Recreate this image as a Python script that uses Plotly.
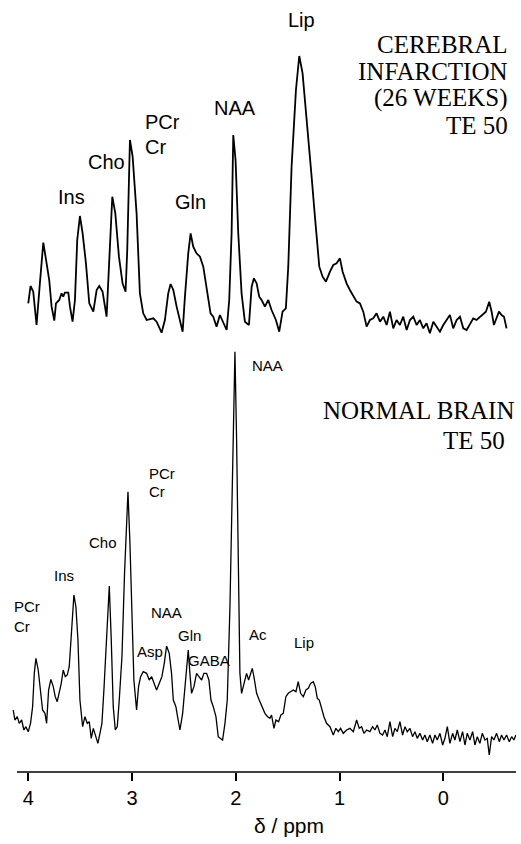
import plotly.graph_objects as go

# ---- data: chemical shift (ppm) and signal intensity (arbitrary units) ----
top_ppm = [4.000, 3.978, 3.952, 3.920, 3.888, 3.855, 3.823, 3.798, 3.775, 3.749,
           3.733, 3.701, 3.679, 3.663, 3.647, 3.614, 3.598, 3.573, 3.550, 3.528,
           3.502, 3.476, 3.444, 3.412, 3.373, 3.341, 3.316, 3.284, 3.245, 3.219,
           3.190, 3.161, 3.126, 3.091, 3.062, 3.046, 3.020, 2.994, 2.956, 2.924,
           2.892, 2.859, 2.827, 2.795, 2.763, 2.737, 2.715, 2.683, 2.651, 2.628,
           2.602, 2.570, 2.538, 2.512, 2.490, 2.458, 2.435, 2.410, 2.378, 2.345,
           2.313, 2.281, 2.243, 2.217, 2.185, 2.153, 2.121, 2.088, 2.063, 2.040,
           2.024, 2.002, 1.976, 1.944, 1.912, 1.873, 1.847, 1.825, 1.799, 1.774,
           1.751, 1.719, 1.687, 1.655, 1.613, 1.581, 1.549, 1.517, 1.494, 1.462,
           1.420, 1.388, 1.356, 1.317, 1.269, 1.237, 1.195, 1.163, 1.131, 1.092,
           1.060, 1.028, 0.996, 0.970, 0.932, 0.900, 0.867, 0.835, 0.803, 0.771,
           0.739, 0.707, 0.675, 0.643, 0.610, 0.578, 0.546, 0.514, 0.482, 0.450,
           0.418, 0.386, 0.353, 0.321, 0.289, 0.257, 0.225, 0.193, 0.161, 0.129,
           0.096, 0.064, 0.032, 0.000, -0.032, -0.064, -0.096, -0.129, -0.161, -0.193,
           -0.225, -0.257, -0.289, -0.321, -0.353, -0.386, -0.411, -0.443, -0.466, -0.488,
           -0.514, -0.537, -0.562, -0.585, -0.610]
top_int = [9.0, 14.2, 12.5, 2.5, 15.0, 27.2, 21.0, 16.0, 8.0, 3.8,
           9.0, 10.0, 12.0, 11.0, 12.2, 12.2, 8.0, 3.5, 10.0, 28.0,
           35.2, 30.0, 21.0, 9.0, 6.5, 13.0, 14.2, 12.5, 5.0, 24.0,
           41.0, 36.0, 23.0, 15.0, 12.5, 25.0, 58.0, 53.0, 36.0, 12.0,
           6.0, 4.0, 4.2, 4.5, 3.5, 1.5, 0.2, 4.0, 12.0, 14.8,
           13.0, 8.0, 3.5, 0.5, 11.0, 24.0, 30.0, 26.0, 24.0, 23.0,
           20.0, 14.0, 6.0, 5.0, 2.0, 5.5, 3.5, 1.0, 10.0, 30.0,
           59.5, 52.0, 30.0, 12.0, 3.5, 2.5, 14.0, 16.5, 15.0, 11.0,
           10.0, 8.0, 10.0, 7.0, 4.0, 0.5, 6.5, 7.5, 20.0, 50.0,
           73.0, 83.2, 78.0, 65.0, 47.0, 35.0, 20.0, 17.0, 15.5, 18.5,
           20.5, 21.0, 22.5, 18.5, 15.0, 13.0, 11.0, 9.5, 9.0, 6.5,
           2.0, 4.0, 4.5, 6.0, 3.5, 5.0, 2.5, 6.5, 1.5, 4.0,
           2.5, 5.0, 1.0, 4.0, 5.0, 2.5, 4.0, 1.5, 3.0, 0.0,
           3.5, 2.0, 0.5, 2.5, 4.0, 5.5, 1.5, 4.0, 5.0, 1.5,
           1.0, 3.0, 4.5, 4.0, 5.0, 6.0, 6.5, 9.5, 6.5, 2.5,
           5.0, 6.5, 5.5, 5.0, 1.5]

bot_ppm = [4.145, 4.129, 4.106, 4.087, 4.064, 4.042, 4.023, 4.000, 3.978, 3.958,
           3.942, 3.926, 3.904, 3.881, 3.862, 3.839, 3.823, 3.804, 3.782, 3.759,
           3.740, 3.721, 3.701, 3.682, 3.663, 3.643, 3.624, 3.605, 3.582, 3.560,
           3.541, 3.521, 3.502, 3.476, 3.454, 3.431, 3.412, 3.393, 3.373, 3.351,
           3.329, 3.309, 3.290, 3.271, 3.245, 3.219, 3.200, 3.181, 3.161, 3.142,
           3.123, 3.097, 3.072, 3.055, 3.039, 3.020, 3.001, 2.982, 2.956, 2.937,
           2.917, 2.892, 2.859, 2.834, 2.811, 2.789, 2.763, 2.737, 2.712, 2.689,
           2.667, 2.641, 2.619, 2.602, 2.577, 2.561, 2.538, 2.512, 2.490, 2.458,
           2.442, 2.426, 2.403, 2.378, 2.355, 2.329, 2.307, 2.281, 2.259, 2.239,
           2.217, 2.191, 2.169, 2.146, 2.127, 2.104, 2.082, 2.056, 2.034, 2.018,
           2.008, 1.992, 1.976, 1.960, 1.944, 1.921, 1.896, 1.876, 1.857, 1.841,
           1.825, 1.799, 1.774, 1.748, 1.719, 1.693, 1.671, 1.655, 1.632, 1.613,
           1.587, 1.565, 1.542, 1.517, 1.494, 1.472, 1.446, 1.420, 1.398, 1.375,
           1.349, 1.324, 1.301, 1.279, 1.253, 1.234, 1.214, 1.195, 1.173, 1.150,
           1.125, 1.092, 1.060, 1.035, 1.012, 0.990, 0.964, 0.932, 0.900, 0.867,
           0.835, 0.810, 0.787, 0.765, 0.739, 0.707, 0.681, 0.659, 0.636, 0.610,
           0.585, 0.562, 0.540, 0.514, 0.488, 0.466, 0.443, 0.418, 0.392, 0.369,
           0.347, 0.321, 0.296, 0.273, 0.251, 0.225, 0.199, 0.177, 0.154, 0.129,
           0.103, 0.080, 0.058, 0.032, 0.006, -0.016, -0.039, -0.064, -0.090, -0.112,
           -0.135, -0.161, -0.186, -0.209, -0.231, -0.257, -0.283, -0.305, -0.328, -0.353,
           -0.376, -0.402, -0.424, -0.443, -0.466, -0.488, -0.514, -0.540, -0.562, -0.585,
           -0.610, -0.636, -0.659, -0.681, -0.700]
bot_int = [9.0, 6.0, 7.0, 5.0, 6.0, 3.0, 4.0, 2.5, 5.0, 10.0,
           20.0, 24.5, 21.0, 14.0, 9.0, 8.0, 5.0, 15.0, 18.2, 16.0,
           13.0, 11.5, 14.0, 17.0, 21.0, 19.0, 19.5, 22.0, 33.0, 43.5,
           40.0, 30.0, 12.0, 4.0, 7.0, 5.0, 5.5, 0.5, 3.5, 1.5,
           -1.0, 2.0, 5.0, 15.0, 33.0, 46.2, 30.0, 10.0, 3.0, 4.0,
           12.0, 25.0, 50.0, 64.0, 74.5, 59.0, 40.0, 18.0, 9.0, 16.0,
           19.0, 20.5, 20.0, 18.0, 19.0, 17.0, 15.0, 17.0, 19.0, 23.0,
           28.2, 26.0, 20.0, 12.0, 10.0, 7.0, 3.0, 8.0, 15.0, 27.0,
           20.0, 14.0, 16.0, 20.0, 19.0, 18.0, 20.0, 20.0, 18.0, 12.0,
           10.0, 7.0, 1.0, 0.5, 0.0, 5.0, 12.0, 40.0, 80.0, 110.0,
           116.5, 90.0, 50.0, 20.0, 14.0, 17.0, 20.0, 18.0, 20.0, 21.5,
           19.0, 14.0, 12.0, 10.0, 8.0, 7.0, 6.5, 7.5, 3.5, 6.0,
           5.5, 7.5, 8.0, 13.0, 14.0, 14.5, 15.0, 14.5, 17.5, 14.0,
           13.0, 15.0, 15.5, 17.0, 17.5, 16.0, 12.5, 12.0, 9.5, 7.0,
           5.0, 4.0, 1.5, 3.5, 2.5, 3.5, 2.0, 3.0, 3.5, 2.5,
           6.0, 3.5, 4.0, 2.0, 3.0, 2.5, 4.0, 3.0, 4.5, 2.0,
           1.5, 3.0, 1.0, 5.5, 1.0, 3.5, 2.5, 5.5, 1.5, 4.0,
           2.5, 3.5, 1.0, 2.5, 0.5, 2.0, 0.0, 1.5, -0.5, 1.5,
           -1.0, 1.5, 0.0, 2.0, -1.5, 0.5, 4.0, -1.0, 2.0, 0.0,
           3.0, -0.5, 2.5, -1.5, 2.0, 0.0, 2.5, -1.5, 1.0, -1.0,
           2.0, 0.0, 0.5, -4.5, 1.0, 0.0, 2.0, -0.5, 1.5, 0.0,
           1.5, -0.5, 1.0, 0.0, 1.5]

tick_vals = [4, 3, 2, 1, 0]
tick_text = ["4", "3", "2", "1", "0"]

assert len(top_ppm) == len(top_int)
assert len(bot_ppm) == len(bot_int)

# ---- figure ----
W, H = 521, 844
ML, MR, MT, MB = 10, 5, 0, 72
PW, PH = W - ML - MR, H - MT - MB

def P(px, py):
    """pixel position -> paper coordinates"""
    return (px - ML) / PW, (PH + MT - py) / PH

fig = go.Figure()
fig.add_trace(go.Scatter(x=bot_ppm, y=bot_int, mode="lines",
                         line=dict(color="black", width=1.3), yaxis="y",
                         showlegend=False, hoverinfo="skip"))
fig.add_trace(go.Scatter(x=top_ppm, y=top_int, mode="lines",
                         line=dict(color="black", width=1.8), yaxis="y2",
                         showlegend=False, hoverinfo="skip"))

SANS = "Liberation Sans, Arial, sans-serif"
SERIF = "Liberation Serif, Times New Roman, serif"

labels = [
    # text, px, py, size, family, xanchor
    ("Lip", 301.7, 20, 20, SANS, "center"),
    ("CEREBRAL", 510, 45, 25, SERIF, "right"),
    ("INFARCTION", 510, 71.7, 25, SERIF, "right"),
    ("(26 WEEKS)", 510, 98.3, 25, SERIF, "right"),
    ("TE 50", 510, 125, 25, SERIF, "right"),
    ("NAA", 235, 108, 20, SANS, "center"),
    ("PCr", 143, 121.7, 20, SANS, "left"),
    ("Cr", 143, 146.7, 20, SANS, "left"),
    ("Cho", 106, 161.7, 20, SANS, "center"),
    ("Ins", 71.7, 197, 20, SANS, "center"),
    ("Gln", 190, 201.7, 20, SANS, "center"),
    ("NAA", 267.7, 365, 15, SANS, "center"),
    ("NORMAL BRAIN", 516, 410, 25, SERIF, "right"),
    ("TE 50", 507, 440, 25, SERIF, "right"),
    ("PCr", 146.7, 473.3, 15, SANS, "left"),
    ("Cr", 146.7, 491.7, 15, SANS, "left"),
    ("Cho", 103.3, 542.3, 15, SANS, "center"),
    ("Ins", 64, 575.3, 15, SANS, "center"),
    ("PCr", 11.7, 606.7, 15, SANS, "left"),
    ("Cr", 11.7, 626.7, 15, SANS, "left"),
    ("NAA", 166.7, 612.7, 15, SANS, "center"),
    ("Gln", 189.3, 635, 15, SANS, "center"),
    ("Asp", 150, 651.7, 15, SANS, "center"),
    ("GABA", 209.3, 660, 15, SANS, "center"),
    ("Ac", 258.3, 634, 15, SANS, "center"),
    ("Lip", 304, 642.7, 15, SANS, "center"),
    ("δ / ppm", 289, 825, 21, SANS, "center"),
]
annotations = []
for text, px, py, size, fam, xa in labels:
    ax, ay = P(px, py)
    annotations.append(dict(text=text, x=ax, y=ay, xref="paper", yref="paper",
                            xanchor=xa, yanchor="middle", showarrow=False,
                            font=dict(family=fam, size=size, color="black")))

fig.update_layout(
    width=W, height=H,
    margin=dict(l=ML, r=MR, t=MT, b=MB),
    paper_bgcolor="white", plot_bgcolor="white",
    xaxis=dict(range=[4.176, -0.701], tickvals=tick_vals, ticktext=tick_text,
               ticks="outside", ticklen=8, tickwidth=1.5, tickcolor="black",
               showline=False, showgrid=False, zeroline=False,
               tickfont=dict(family=SANS, size=20, color="black")),
    yaxis=dict(range=[-9.6, 222.0], visible=False, showgrid=False, zeroline=False),
    yaxis2=dict(range=[-131.6, 100.0], overlaying="y", visible=False,
                showgrid=False, zeroline=False),
    annotations=annotations,
    shapes=[dict(type="line", xref="x", yref="paper", x0=4.109, x1=-0.701,
                 y0=0, y1=0, line=dict(color="black", width=1.5))],
)

fig.write_html("out.html")
